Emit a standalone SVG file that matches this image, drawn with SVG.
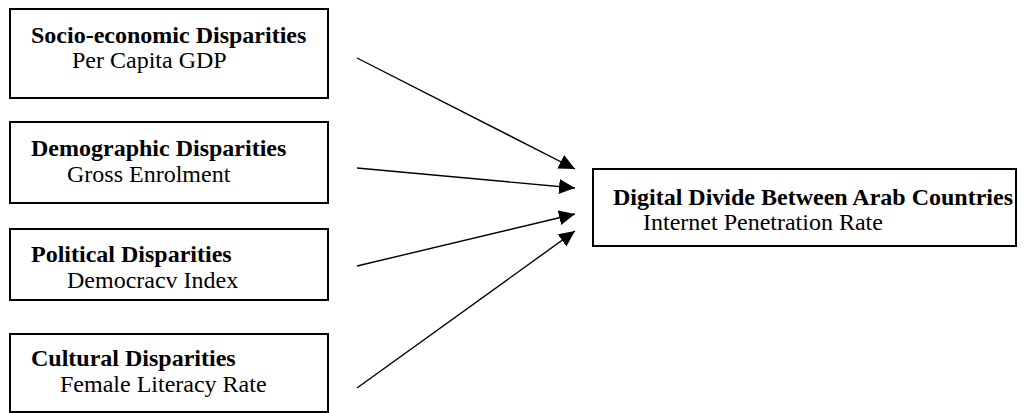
<svg xmlns="http://www.w3.org/2000/svg" width="1026" height="413" viewBox="0 0 1026 413">
<defs>
<style>
.box{fill:#fff;stroke:#000;stroke-width:2}
.t{font-family:"Liberation Serif","Times New Roman",serif;font-size:24px;fill:#000}
.b{font-weight:bold}
.c{stroke:#000;stroke-width:1.4;fill:none;marker-end:url(#ah)}
</style>
<marker id="ah" markerUnits="userSpaceOnUse" markerWidth="17" markerHeight="16" refX="16" refY="7.5" orient="auto">
<path d="M0,0 L16,7.5 L0,15 z" fill="#000"/>
</marker>
</defs>
<rect width="1026" height="413" fill="#fff"/>
<g id="n1">
<rect class="box" x="10" y="9" width="318" height="89"/>
<text class="t b" x="31" y="43">Socio-economic Disparities</text>
<text class="t" x="72" y="68">Per Capita GDP</text>
</g>
<g id="n2">
<rect class="box" x="10" y="122" width="318" height="81"/>
<text class="t b" x="31" y="156">Demographic Disparities</text>
<text class="t" x="67" y="182">Gross Enrolment</text>
</g>
<g id="n3">
<rect class="box" x="10" y="229" width="318" height="71"/>
<text class="t b" x="31" y="262">Political Disparities</text>
<text class="t" x="67" y="288">Democracv Index</text>
</g>
<g id="n4">
<rect class="box" x="10" y="334" width="318" height="78"/>
<text class="t b" x="31" y="366">Cultural Disparities</text>
<text class="t" x="60" y="392">Female Literacy Rate</text>
</g>
<g id="n5">
<rect class="box" x="593" y="169" width="423" height="77"/>
<text class="t b" x="613" y="205">Digital Divide Between Arab Countries</text>
<text class="t" x="643" y="230">Internet Penetration Rate</text>
</g>
<g id="connectors">
<line class="c" x1="357" y1="58" x2="575" y2="169"/>
<line class="c" x1="357" y1="168" x2="575" y2="188"/>
<line class="c" x1="357" y1="266" x2="575" y2="214"/>
<line class="c" x1="357" y1="388" x2="575" y2="231"/>
</g>
</svg>
